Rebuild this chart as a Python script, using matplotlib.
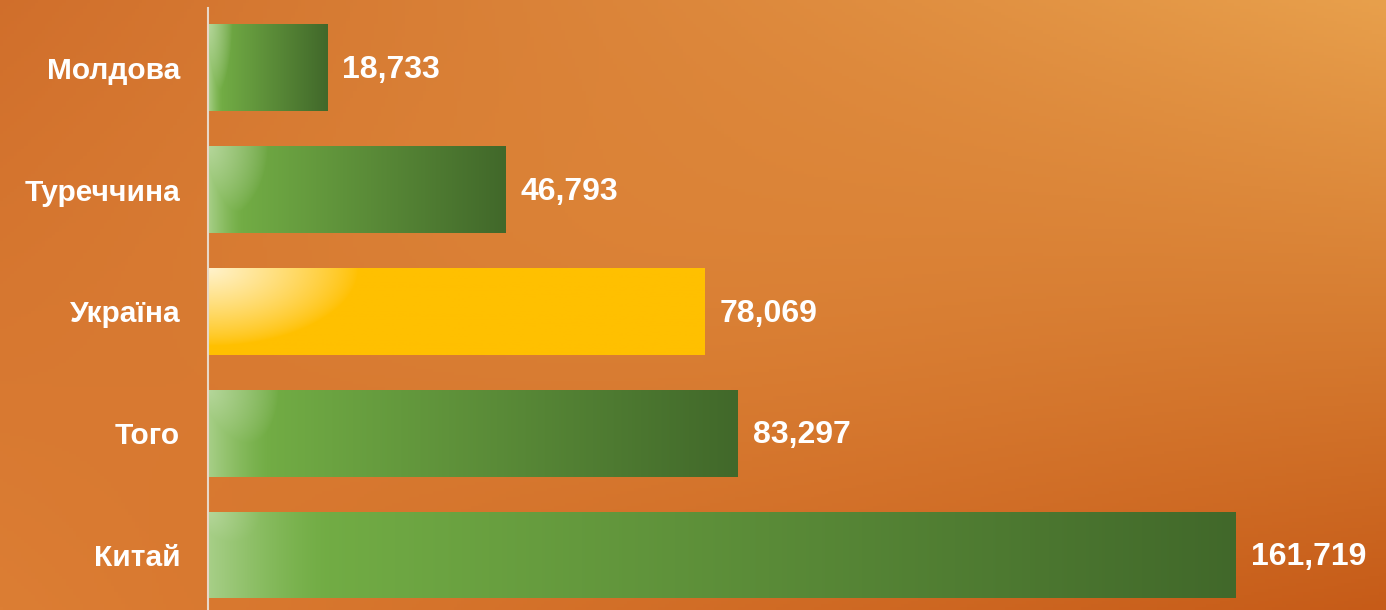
import numpy as np
import matplotlib
matplotlib.use("Agg")
import matplotlib.pyplot as plt
from matplotlib.colors import to_rgb

# data (top to bottom as in the picture)
countries = ["Молдова", "Туреччина", "Україна", "Того", "Китай"]
values = [18733, 46793, 78069, 83297, 161719]
highlight = "Україна"

plt.rcParams['font.family'] = ['Liberation Sans', 'DejaVu Sans']

W, H = 1386, 610
fig = plt.figure(figsize=(W / 100, H / 100), dpi=100)

# orange background, lighter to the upper right, darker bottom right
bg = fig.add_axes([0, 0, 1, 1], zorder=0)
bg.axis("off")
yy, xx = np.mgrid[0:1:200j, 0:1:400j]
tl, tr = np.array(to_rgb("#d06e2b")), np.array(to_rgb("#e8a04c"))
bl, br = np.array(to_rgb("#dc7e34")), np.array(to_rgb("#c65b18"))
img = ((1 - xx)[..., None] * (1 - yy)[..., None] * tl + xx[..., None] * (1 - yy)[..., None] * tr
       + (1 - xx)[..., None] * yy[..., None] * bl + xx[..., None] * yy[..., None] * br)
mid = np.exp(-(((xx - 0.45) / 0.35) ** 2 + ((yy - 0.4) / 0.35) ** 2))[..., None]
img = img * (1 - 0.35 * mid) + np.array(to_rgb("#e28e3e")) * 0.35 * mid
bg.imshow(np.clip(img, 0, 1), extent=[0, 1, 0, 1], aspect="auto", origin="upper")
bg.set_xlim(0, 1)
bg.set_ylim(0, 1)

left = 208 / W
ax = fig.add_axes([left, 0, 1 - left, 602 / H], zorder=1)
ax.patch.set_alpha(0)

pos = np.arange(len(countries))[::-1]
bars = ax.barh(pos, values, height=0.71, color="none", edgecolor="none")
ax.set_xlim(0, values[-1] * (W - 208) / 1028)
ax.set_ylim(-0.45, len(countries) - 1 + 0.49)

for s in ["top", "right", "bottom"]:
    ax.spines[s].set_visible(False)
ax.spines["left"].set_color("#e8d8c8")
ax.spines["left"].set_linewidth(1.5)
ax.set_xticks([])
ax.set_yticks(pos)
ax.set_yticklabels(countries, color="white", fontsize=21.5, fontweight="bold")
ax.tick_params(axis="y", length=0, pad=20)

fig.canvas.draw()
px_per_x = ax.bbox.width / (ax.get_xlim()[1] - ax.get_xlim()[0])

for name, bar, v in zip(countries, bars, values):
    x0, y0 = bar.get_x(), bar.get_y()
    w, h = bar.get_width(), bar.get_height()
    wpx = w * px_per_x
    nx = max(int(wpx), 2)
    u, vv = np.meshgrid(np.linspace(0, 1, nx), np.linspace(0, 1, 90))
    if name == highlight:
        base = np.ones((90, nx, 3)) * np.array(to_rgb("#ffc000"))
        rx, amax = 150, 0.8
    else:
        c1, c2 = np.array(to_rgb("#78b548"))  , np.array(to_rgb("#41682a"))
        base = (1 - u)[..., None] * c1 + u[..., None] * c2
        rx, amax = min(0.2 * wpx, 70), 0.45
    d = np.sqrt((u * wpx / rx) ** 2 + (vv / 0.9) ** 2)
    a = np.clip(1 - d, 0, 1) ** 0.8 * amax
    if name != highlight:
        band = min(0.12 * wpx, 120)
        a = np.maximum(a, np.clip(1 - u * wpx / band, 0, 1) ** 1.5 * 0.35)
    col = base * (1 - a[..., None]) + a[..., None]
    im = ax.imshow(col, extent=[x0, x0 + w, y0, y0 + h], origin="upper",
                   aspect="auto", zorder=2)
    im.set_clip_path(bar)
    ax.annotate(f"{v:,}", (x0 + w, y0 + h / 2), xytext=(11, -1.5),
                textcoords="offset points", ha="left", va="center",
                color="white", fontsize=23, fontweight="bold", zorder=3)

ax.set_xlim(0, values[-1] * (W - 208) / 1028)
ax.set_ylim(-0.45, len(countries) - 1 + 0.49)

fig.savefig("out.png", dpi=100)
